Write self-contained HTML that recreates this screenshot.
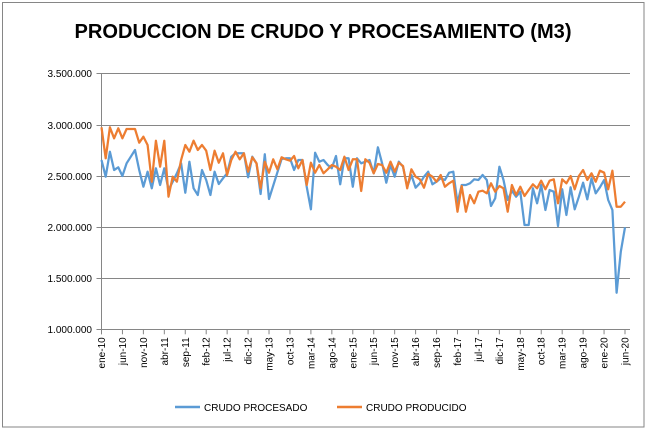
<!DOCTYPE html>
<html><head><meta charset="utf-8"><style>
body{margin:0;background:#fff;}
svg{display:block;font-family:"Liberation Sans",sans-serif;}
</style></head><body>
<svg id="c" width="647" height="430" viewBox="0 0 647 430" xmlns="http://www.w3.org/2000/svg">
<rect x="0" y="0" width="647" height="430" fill="#fff"/>
<rect x="2.5" y="2.5" width="641.5" height="424.5" fill="none" stroke="#868686" stroke-width="1"/>
<text x="323" y="38" text-anchor="middle" font-size="20" font-weight="bold" textLength="497" lengthAdjust="spacingAndGlyphs" fill="#000">PRODUCCION DE CRUDO Y PROCESAMIENTO (M3)</text>
<g id="grid" stroke="#868686" stroke-width="1"></g>
<g id="ylab" font-size="10" fill="#000" text-anchor="end"></g>
<g id="xlab" font-size="10" fill="#000" text-anchor="end"></g>
<g id="series"></g>
<line x1="175" y1="407" x2="200" y2="407" stroke="#5B9BD5" stroke-width="2.5"/>
<text x="204" y="411" font-size="10" fill="#000">CRUDO PROCESADO</text>
<line x1="337" y1="407" x2="362" y2="407" stroke="#ED7D31" stroke-width="2.5"/>
<text x="366" y="411" font-size="10" fill="#000">CRUDO PRODUCIDO</text>
</svg>
<script>
(function(){
var NS="http://www.w3.org/2000/svg";
function el(p,t,a,txt){var e=document.createElementNS(NS,t);for(var k in a)e.setAttribute(k,a[k]);if(txt!=null)e.textContent=txt;p.appendChild(e);return e;}
var L=101.5,R=630,T=73.3,B=329.3,step=4.188;
var g=document.getElementById('grid'),yl=document.getElementById('ylab'),xl=document.getElementById('xlab');
var labs=["3.500.000","3.000.000","2.500.000","2.000.000","1.500.000","1.000.000"];
for(var i=0;i<6;i++){var y=Math.round(T+i*51.2)+0.5;el(g,'line',{x1:L-5,y1:y,x2:R,y2:y});el(yl,'text',{x:92,y:y+3.5},labs[i]);}
el(g,'line',{x1:L,y1:T,x2:L,y2:B+5});
var xs=["ene-10","jun-10","nov-10","abr-11","sep-11","feb-12","jul-12","dic-12","may-13","oct-13","mar-14","ago-14","ene-15","jun-15","nov-15","abr-16","sep-16","feb-17","jul-17","dic-17","may-18","oct-18","mar-19","ago-19","ene-20","jun-20"];
for(var j=0;j<xs.length;j++){var m=j*5;var x=L+m*step;el(g,'line',{x1:x,y1:B,x2:x,y2:B+5});
el(xl,'text',{x:0,y:0,transform:'translate('+(x+3.5)+','+(B+8)+') rotate(-90)'},xs[j]);}
function build(parts){var out=[];parts.forEach(function(p){p[1].forEach(function(v){out.push(p[0]+v/3);});});return out;}
var blue=build([[120,[120,170,95,150,142,168,130,110,90,150,200,155,205,145,195,145,210,185,160,130,218,125,205,225,150,180,225,155,192,175,160,110]],
[120,[100,100,100,172,110,130,222,103,237,197,157,117,115,115,150,120,120,200,268,98,125,120,135,145,108,193,115,115,200,115,130,125]],
[140,[60,100,22,70,128,75,110,65,80,140,105,143,130,110,95,133,125]],
[150,[85,90,68,65,160,105,105,100,88,90,75,90,168,145,50,90,150,122,140,125,225,225,115,160]],
[150,[105,180,120,125,228,118,195,112,178,140,98,148,85,130,112,90,150,180,428,305,232]]]);
var orange=build([[120,[22,115,22,55,25,55,27,27,27,68,50,75,185,62,140,62,230,170,185,120,75,95,62,90,75,92,150,92,128,100,165,120]],
[120,[95,118,100,155,112,130,205,125,158,118,148,112,118,122,108,145,120,195,128,158,135,160,148,135,140,150,110,150,118,118,213,118]],
[140,[68,100,72,75,98,65,95,68,78,145,88,110,118,143,102,110,125]],
[150,[75,110,100,92,185,108,185,135,160,125,122,130,100,125,108,115,185,105,135,110,138,120,103,115]],
[150,[92,118,92,88,160,88,100,78,118,78,60,90,70,95,62,68,118,62,170,170,155]]]);
function pts(a){return a.map(function(y,i){return (L+i*step).toFixed(1)+','+y.toFixed(1);}).join(' ');}
var s=document.getElementById('series');
el(s,'polyline',{points:pts(blue),fill:'none',stroke:'#5B9BD5','stroke-width':2.25,'stroke-linejoin':'round'});
el(s,'polyline',{points:pts(orange),fill:'none',stroke:'#ED7D31','stroke-width':2.25,'stroke-linejoin':'round'});
})();
</script>
</body></html>
